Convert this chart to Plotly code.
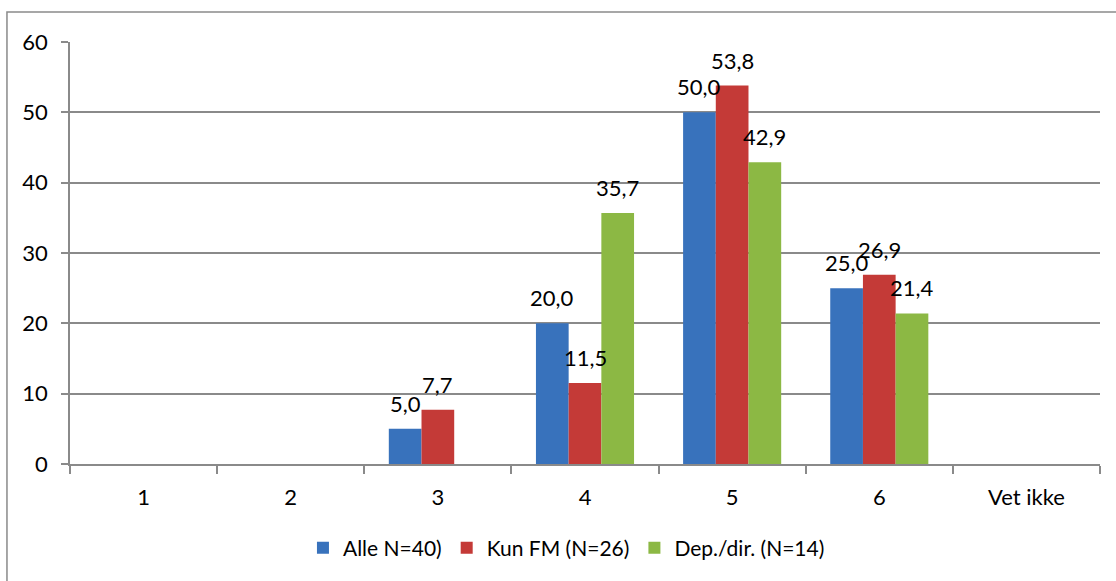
import plotly.graph_objects as go

# Answer categories (scale 1-6 plus "don't know")
categories = ["1", "2", "3", "4", "5", "6", "Vet ikke"]

# Share of respondents (%) per group; None = no answers in that category
alle = [None, None, 5.0, 20.0, 50.0, 25.0, None]
kun_fm = [None, None, 7.7, 11.5, 53.8, 26.9, None]
dep_dir = [None, None, None, 35.7, 42.9, 21.4, None]

series_names = ["Alle N=40)", "Kun FM (N=26)", "Dep./dir. (N=14)"]
series_values = [alle, kun_fm, dep_dir]
series_colors = ["#3872BC", "#C43A37", "#8CB844"]

y_ticks = [0, 10, 20, 30, 40, 50, 60]

FONT = "Lato, 'Open Sans', sans-serif"
GRID = "#8A8A8A"
BARGAP = 1 / 3

fig = go.Figure()
for name, vals, color in zip(series_names, series_values, series_colors):
    fig.add_trace(go.Bar(
        x=categories,
        y=vals,
        name=name,
        marker=dict(color=color, line=dict(width=0)),
    ))

# Value labels above each bar, centred on the bar inside its group
n = len(series_values)
bar_w = (1 - BARGAP) / n
annotations = []
for i, vals in enumerate(series_values):
    offset = (i - (n - 1) / 2) * bar_w
    for j, v in enumerate(vals):
        if v is None:
            continue
        annotations.append(dict(
            x=j + offset, y=v, xref="x", yref="y",
            text=f"{v:.1f}".replace(".", ","),
            showarrow=False, yanchor="bottom", xanchor="center",
            yshift=10, font=dict(family=FONT, size=22, color="#000000"),
        ))

fig.update_layout(
    width=1116, height=581,
    margin=dict(l=70, r=16, t=42, b=117),
    paper_bgcolor="white", plot_bgcolor="white",
    barmode="group", bargap=BARGAP, bargroupgap=0,
    font=dict(family=FONT, size=22, color="#000000"),
    separators=",.",
    showlegend=True,
    legend=dict(
        orientation="h", x=0.482, xanchor="center", y=-0.199, yanchor="middle",
        font=dict(family=FONT, size=21, color="#000000"),
        itemwidth=30, traceorder="normal",
    ),
    annotations=annotations,
    shapes=[dict(
        type="rect", xref="paper", yref="paper",
        x0=-0.0612, x1=1.03, y0=-0.33, y1=1.0711,
        line=dict(color=GRID, width=1.5), fillcolor="rgba(0,0,0,0)", layer="below",
    )],
)

fig.update_xaxes(
    type="category", categoryorder="array", categoryarray=categories,
    range=[-0.5, len(categories) - 0.5],
    showgrid=False, zeroline=False,
    showline=True, linecolor=GRID, linewidth=1.5,
    ticks="outside", tickson="boundaries", ticklen=8, tickcolor=GRID, tickwidth=1.5,
    ticklabelstandoff=13,
)
fig.update_yaxes(
    range=[0, 60], tickvals=y_ticks,
    showgrid=True, gridcolor=GRID, gridwidth=1.5, zeroline=False,
    showline=True, linecolor=GRID, linewidth=1.5,
    ticks="outside", ticklen=7, tickcolor=GRID, tickwidth=1.5,
    ticklabelstandoff=9,
)

fig.write_html("out.html")
